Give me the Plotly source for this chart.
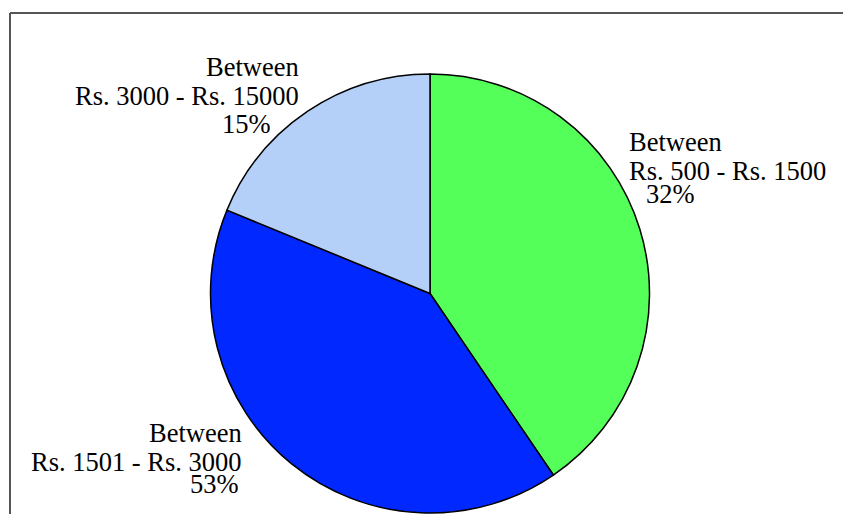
import plotly.graph_objects as go

# Data
categories = ["Between Rs. 500 - Rs. 1500", "Between Rs. 1501 - Rs. 3000", "Between Rs. 3000 - Rs. 15000"]
range_text = ["Rs. 500 - Rs. 1500", "Rs. 1501 - Rs. 3000", "Rs. 3000 - Rs. 15000"]
slice_share = [40.5, 40.7, 18.8]          # slice sizes as drawn
pct_labels = ["32%", "53%", "15%"]         # percentages printed on the chart
colors = ["#55FF5A", "#0028FF", "#B5D0F8"]

W, H = 843, 514
FONT = "Liberation Serif, Times New Roman, serif"
FS = 26.5

fig = go.Figure()

cx, cy, r = 430, 293.5, 219.5
fig.add_trace(go.Pie(
    labels=categories,
    values=slice_share,
    sort=False,
    direction="clockwise",
    rotation=0,
    marker=dict(colors=colors, line=dict(color="black", width=1.5)),
    textinfo="none",
    hoverinfo="label+percent",
    showlegend=False,
    domain=dict(x=[(cx - r) / W, (cx + r) / W], y=[(H - cy - r) / H, (H - cy + r) / H]),
))

# label layout: (line text, x, baseline y, xanchor)
label_lines = [
    ("Between", 628, 151, "left"), (range_text[0], 628, 180, "left"), (pct_labels[0], 645, 203, "left"),
    ("Between", 243, 442, "right"), (range_text[1], 243, 471, "right"), (pct_labels[1], 240, 493, "right"),
    ("Between", 300, 76, "right"), (range_text[2], 300, 105, "right"), (pct_labels[2], 246.5, 133, "center"),
]
for txt, x, yb, xa in label_lines:
    fig.add_annotation(x=x, y=yb - 9, xref="x", yref="y", text=txt, showarrow=False,
                       xanchor=xa, yanchor="middle", borderpad=0,
                       font=dict(family=FONT, size=FS, color="black"))

# frame lines
fig.add_shape(type="line", x0=10, y0=13, x1=W + 5, y1=13, xref="x", yref="y",
              line=dict(color="#555555", width=2))
fig.add_shape(type="line", x0=10, y0=13, x1=10, y1=H + 5, xref="x", yref="y",
              line=dict(color="#555555", width=2))

fig.update_layout(
    width=W, height=H,
    margin=dict(l=0, r=0, t=0, b=0),
    paper_bgcolor="white", plot_bgcolor="rgba(0,0,0,0)",
    xaxis=dict(range=[0, W], visible=False, fixedrange=True),
    yaxis=dict(range=[H, 0], visible=False, fixedrange=True),
)

fig.write_html("out.html", config={"displayModeBar": False},
               post_script="document.body.style.margin='0';document.body.style.overflow='hidden';")
